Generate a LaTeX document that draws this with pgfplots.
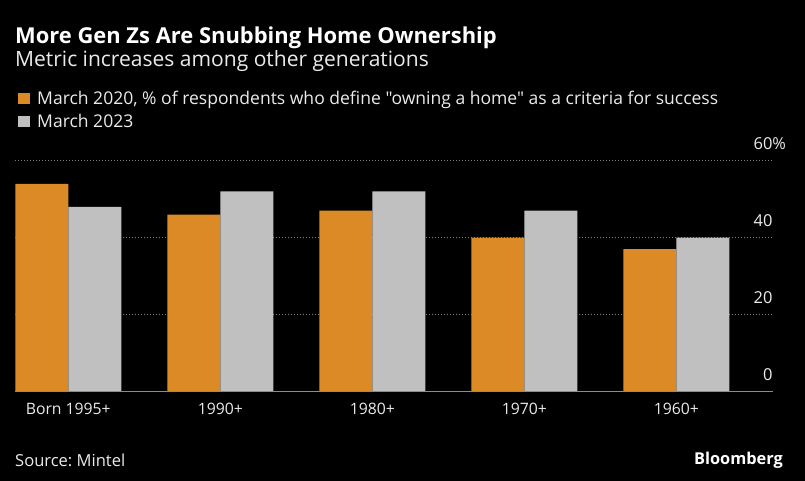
\documentclass[border=0pt]{standalone}
\usepackage{pgfplots}
\pgfplotsset{compat=1.18}
\usepackage{fontspec}
\setmainfont{Open Sans}[Ligatures=TeXOff]
\frenchspacing
\definecolor{barorange}{RGB}{220,138,38}
\definecolor{bargrey}{RGB}{192,192,192}
\definecolor{gridc}{RGB}{125,125,125}
\definecolor{basec}{RGB}{140,140,140}
\definecolor{txt}{RGB}{235,235,235}
\begin{document}
\begin{tikzpicture}[x=1bp,y=1bp]
\fill[black] (0,0) rectangle (805,481);
\begin{axis}[
  at={(15.4bp,89.3bp)}, anchor=south west,
  scale only axis, width=757.2bp, height=231bp,
  xmin=-0.348, xmax=4.633, ymin=0, ymax=60,
  ybar=0pt, bar width=53bp,
  clip=false,
  axis line style={draw=none},
  major tick length=0pt,
  xtick={0,1,2,3,4},
  xticklabels={Born 1995+,1990+,1980+,1970+,1960+},
  ytick={0,20,40,60},
  yticklabels={0,20,40,60\rlap{\%}},
  yticklabel pos=right,
  ymajorgrids,
  grid style={gridc, line width=0.9bp, dash pattern=on 0.9bp off 2.1bp},
  xticklabel style={text=txt, font=\fontsize{15.8}{18}\selectfont, anchor=north, inner sep=0pt, yshift=-11.6bp},
  yticklabel style={text=txt, font=\fontsize{16.5}{18}\selectfont, anchor=south east, inner sep=0pt, yshift=11bp},
]
\addplot[fill=barorange, draw=none] coordinates {(0,54) (1,46) (2,47) (3,40) (4,37)};
\addplot[fill=bargrey, draw=none] coordinates {(0,48) (1,52) (2,52) (3,47) (4,40)};
\draw[basec, line width=1.3bp] (axis cs:-0.348,0) -- (axis cs:4.633,0);
\end{axis}
\node[anchor=base west, inner sep=0pt, text=white, font=\fontsize{22}{26}\selectfont\bfseries] at (15,437.7) {More Gen Zs Are Snubbing Home Ownership};
\node[anchor=base west, inner sep=0pt, text=txt, font=\fontsize{21.1}{24}\selectfont] at (15,414.3) {Metric increases among other generations};
\fill[barorange] (18,377) rectangle (30,388);
\node[anchor=base west, inner sep=0pt, text=txt, font=\fontsize{17.6}{20}\selectfont] at (37,376.3) {March 2020, \% of respondents who define "owning a home" as a criteria for success};
\fill[bargrey] (18,354) rectangle (30,365);
\node[anchor=base west, inner sep=0pt, text=txt, font=\fontsize{17.6}{20}\selectfont] at (37,353.3) {March 2023};
\node[anchor=base west, inner sep=0pt, text=txt, font=\fontsize{16.6}{18}\selectfont] at (15,14.3) {Source: Mintel};
\node[anchor=base east, inner sep=0pt, text=white, font=\fontsize{16.4}{20}\selectfont\bfseries] at (783,16.7) {Bloomberg};
\end{tikzpicture}
\end{document}
